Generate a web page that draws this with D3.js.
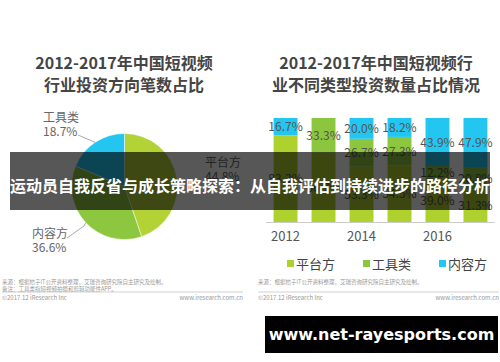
<!DOCTYPE html>
<html><head><meta charset="utf-8">
<script src="https://cdn.jsdelivr.net/npm/d3@7"></script>
<style>body{margin:0;background:#fff}svg{display:block}</style>
</head><body>
<script>
// ---- data ----
const pieLabels = ["平台方", "内容方", "工具类"];
const pieValues = [44.8, 36.6, 18.7];
const pieColors = ["#b3d236", "#8dc63f", "#22c6f0"];

const years = ["2012", "2013", "2014", "2015", "2016", "2017"];
const axisYears = ["2012", "2014", "2016"];
const seriesNames = ["平台方", "工具类", "内容方"];
const platform = [83.3, 66.7, 53.3, 54.5, 39.0, 31.3];
const tools    = [0, 33.3, 26.7, 27.3, 12.2, 20.8];
const content  = [16.7, 0, 20.0, 18.2, 43.9, 47.9];
const barColors = ["#aed12e", "#8cc63f", "#22c6f0"];

const leftTitle = ["2012-2017年中国短视频", "行业投资方向笔数占比"];
const rightTitle = ["2012-2017年中国短视频行", "业不同类型投资数量占比情况"];
const bannerText = "运动员自我反省与成长策略探索：从自我评估到持续进步的路径分析";
const watermark = "www.net-rayesports.com";

const W = 500, H = 362;
const font = "'Noto Sans CJK SC','Noto Sans',sans-serif";
const svg = d3.select("body").append("svg").attr("width", W).attr("height", H)
  .style("font-family", font);
svg.append("rect").attr("width", W).attr("height", H).attr("fill", "#fff");

// ---- titles ----
function title(lines, cx) {
  lines.forEach((t, i) => svg.append("text").attr("x", cx).attr("y", 69 + i * 22)
    .attr("text-anchor", "middle").attr("font-size", 16).attr("font-weight", "bold")
    .attr("fill", "#454545").text(t));
}
title(leftTitle, 124);
title(rightTitle, 376);

// ---- pie ----
const pc = [124.5, 186.5], R = 53;
const pieG = svg.append("g").attr("transform", `translate(${pc})`);
const arcs = d3.pie().sort(null)(pieValues);
const arcGen = d3.arc().innerRadius(0).outerRadius(R);
pieG.selectAll("path").data(arcs).join("path").attr("d", arcGen)
  .attr("fill", (d, i) => pieColors[i]).attr("stroke", "#fff").attr("stroke-width", 0.5);

// pie labels
const pieLabelPos = [
  {x: 205, y: 167, anchor: "start"},
  {x: 32, y: 238, anchor: "start"},
  {x: 43, y: 122, anchor: "start"}
];
pieLabels.forEach((lab, i) => {
  const p = pieLabelPos[i];
  svg.append("text").attr("x", p.x).attr("y", p.y).attr("font-size", 12).attr("fill", "#666").text(lab);
  svg.append("text").attr("x", p.x).attr("y", p.y + 14).attr("font-size", 12).attr("fill", "#666")
    .text(d3.format(".1f")(pieValues[i]) + "%");
});
// leader lines from outer arc
const outer = d3.arc().innerRadius(R).outerRadius(R);
function leader(i, pts) {
  const c = outer.centroid(arcs[i]);
  const line = d3.line();
  svg.append("path").attr("d", line([...pts, [c[0] + pc[0], c[1] + pc[1]]]))
    .attr("fill", "none").attr("stroke", "#aaa").attr("stroke-width", 1);
}
leader(2, [[78, 135], [92, 141]]);
leader(1, [[67, 238], [84, 226]]);

// ---- stacked bars ----
const x = d3.scaleBand().domain(years).range([266, 495]).paddingInner(0.37).paddingOuter(0.2);
const y = d3.scaleLinear().domain([0, 1]).range([222, 118]);
const table = years.map((yr, i) => ({year: yr, "平台方": platform[i], "工具类": tools[i], "内容方": content[i]}));
const stack = d3.stack().keys(seriesNames).offset(d3.stackOffsetExpand)(table);
const bg = svg.append("g");
stack.forEach((s, si) => {
  bg.selectAll(null).data(s).join("rect")
    .attr("x", d => x(d.data.year)).attr("width", x.bandwidth())
    .attr("y", d => y(d[1])).attr("height", d => y(d[0]) - y(d[1]))
    .attr("fill", barColors[si]);
});
stack.forEach((s, si) => {
  bg.selectAll(null).data(s.filter(d => d.data[seriesNames[si]] > 0)).join("text")
    .attr("x", d => x(d.data.year) + x.bandwidth() / 2)
    .attr("y", d => (y(d[0]) + y(d[1])) / 2 + 4.5)
    .attr("text-anchor", "middle").attr("font-size", 12).attr("fill", "#555")
    .text(d => d3.format(".1f")(d.data[seriesNames[si]]) + "%");
});
// x axis
const xa = d3.axisBottom(x).tickValues(axisYears).tickSize(0).tickPadding(10);
const axG = svg.append("g").attr("transform", "translate(0,222)").call(xa);
axG.select(".domain").attr("stroke", "#ccc").attr("d", "M266,0.5H495");
axG.selectAll("text").attr("font-size", 13).attr("fill", "#555").attr("font-family", font);

// legend
const legX = [287, 363, 439];
seriesNames.forEach((n, i) => {
  svg.append("rect").attr("x", legX[i]).attr("y", 260).attr("width", 7).attr("height", 7).attr("fill", barColors[i]);
  svg.append("text").attr("x", legX[i] + 9).attr("y", 269).attr("font-size", 13).attr("fill", "#444").text(n);
});

// ---- footers ----
function footer(x0, x1, lines) {
  lines.forEach((t, i) => svg.append("text").attr("x", x0).attr("y", 284 + i * 6.5)
    .attr("font-size", 5.5).attr("fill", "#999").text(t));
  svg.append("line").attr("x1", x0).attr("x2", x1).attr("y1", 292).attr("y2", 292).attr("stroke", "#bbb").attr("stroke-width", 0.7);
  svg.append("text").attr("x", x0).attr("y", 300).attr("font-size", 6).attr("fill", "#999").text("©2017.12 iResearch Inc");
  svg.append("text").attr("x", x1).attr("y", 300).attr("text-anchor", "end").attr("font-size", 6).attr("fill", "#999").text("www.iresearch.com.cn");
}
footer(2, 243, ["来源：根据桔子IT公开资料整理，艾瑞咨询研究院自主研究及绘制。", "备注：工具类指短视频拍摄和剪辑功能性APP。"]);
footer(258, 499, ["来源：根据桔子IT公开资料整理，艾瑞咨询研究院自主研究及绘制。"]);

// ---- banner ----
svg.append("rect").attr("x", 10).attr("y", 152).attr("width", 480).attr("height", 58)
  .attr("fill", "rgba(0,0,0,0.66)");
svg.append("text").attr("x", 250).attr("y", 192).attr("text-anchor", "middle")
  .attr("font-size", 16).attr("font-weight", "bold").attr("fill", "#fff").text(bannerText);

// ---- watermark ----
svg.append("rect").attr("x", 265).attr("y", 316).attr("width", 233).attr("height", 37).attr("fill", "#000");
svg.append("text").attr("x", 381.5).attr("y", 340).attr("text-anchor", "middle")
  .attr("font-size", 16).attr("font-weight", "bold").attr("fill", "#fff")
  .attr("font-family", "'DejaVu Sans',sans-serif").text(watermark);
</script>
</body></html>
